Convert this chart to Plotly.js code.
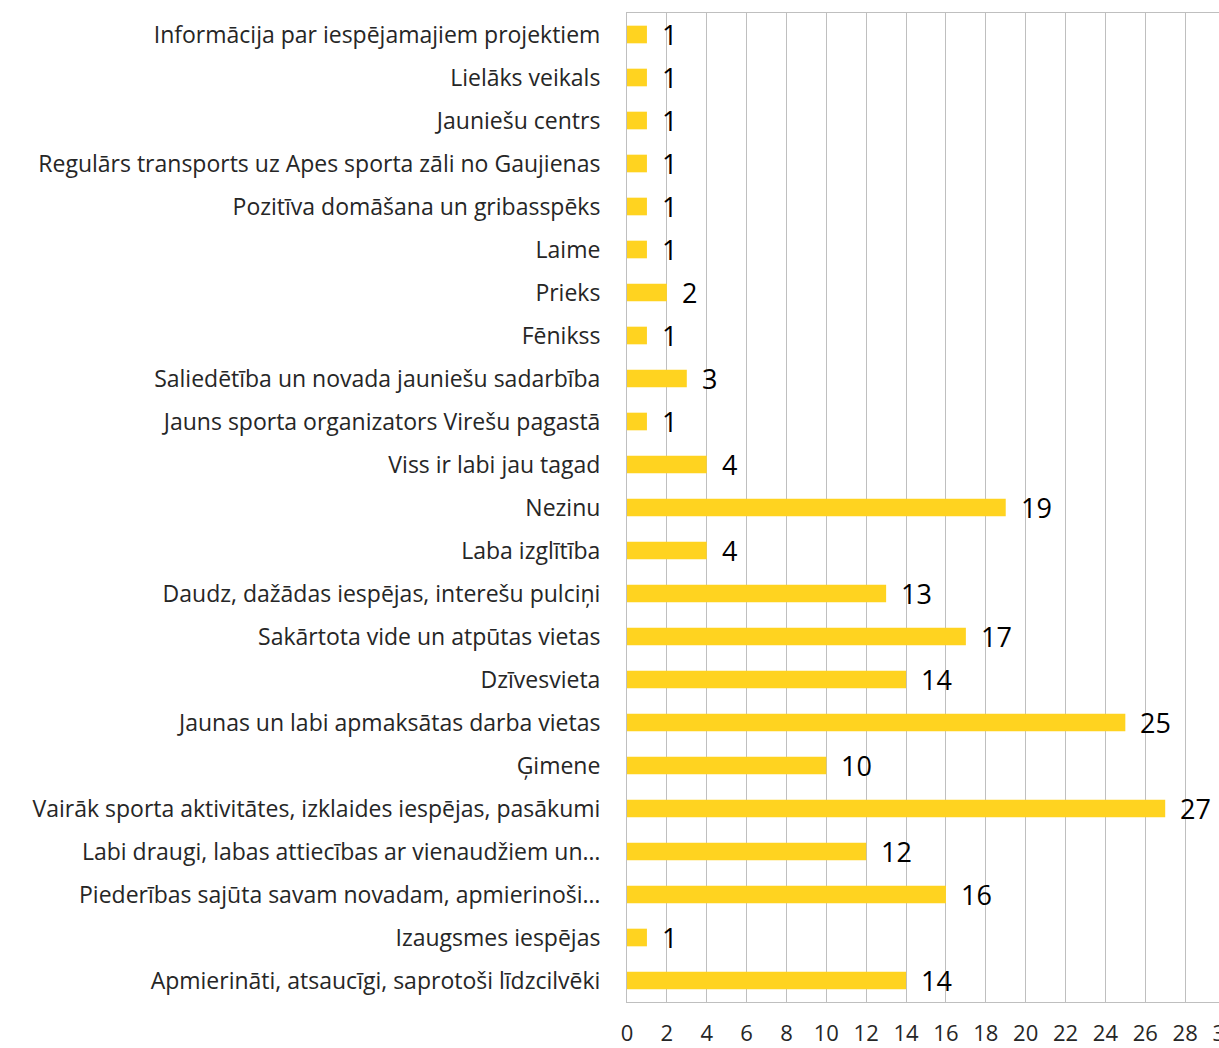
<!DOCTYPE html>
<html>
<head>
<meta charset="utf-8">
<script src="https://cdn.plot.ly/plotly-3.0.1.min.js"></script>
<style>
  html, body { margin: 0; padding: 0; background: #fff; overflow: hidden; }
  #chart { width: 1232px; height: 1048px; }
</style>
</head>
<body>
<div id="chart"></div>
<script>
// categories listed bottom to top, as in the source sheet
const categories = [
    'Apmierināti, atsaucīgi, saprotoši līdzcilvēki',
    'Izaugsmes iespējas',
    'Piederības sajūta savam novadam, apmierinoši…',
    'Labi draugi, labas attiecības ar vienaudžiem un…',
    'Vairāk sporta aktivitātes, izklaides iespējas, pasākumi',
    'Ģimene',
    'Jaunas un labi apmaksātas darba vietas',
    'Dzīvesvieta',
    'Sakārtota vide un atpūtas vietas',
    'Daudz, dažādas iespējas, interešu pulciņi',
    'Laba izglītība',
    'Nezinu',
    'Viss ir labi jau tagad',
    'Jauns sporta organizators Virešu pagastā',
    'Saliedētība un novada jauniešu sadarbība',
    'Fēnikss',
    'Prieks',
    'Laime',
    'Pozitīva domāšana un gribasspēks',
    'Regulārs transports uz Apes sporta zāli no Gaujienas',
    'Jauniešu centrs',
    'Lielāks veikals',
    'Informācija par iespējamajiem projektiem'
];
const counts = [14, 1, 16, 12, 27, 10, 25, 14, 17, 13, 4, 19, 4, 1, 3, 1, 2, 1, 1, 1, 1, 1, 1];
const xTicks = [0, 2, 4, 6, 8, 10, 12, 14, 16, 18, 20, 22, 24, 26, 28, 30];

const fontFamily = '"Open Sans", sans-serif';

const bars = [{
    type: 'bar',
    orientation: 'h',
    x: counts,
    y: categories,
    marker: { color: '#FFD320' },
    hoverinfo: 'x+y'
}];

// value labels sit a bit right of each bar end
const labels = counts.map((v, i) => ({
    x: v, y: categories[i],
    text: String(v),
    showarrow: false,
    xanchor: 'left',
    xshift: 13,
    font: { family: fontFamily, size: 27, color: '#000' }
}));

const layout = {
    width: 1232, height: 1048,
    margin: { l: 627, r: 7, t: 13, b: 46 },
    paper_bgcolor: '#fff', plot_bgcolor: '#fff',
    bargap: 0.59,
    showlegend: false,
    font: { family: fontFamily, size: 23, color: '#262626' },
    xaxis: {
        range: [0, 30],
        tickvals: xTicks,
        showgrid: true, gridcolor: '#bfbfbf', gridwidth: 1,
        zeroline: false,
        showline: true, linecolor: '#bfbfbf', linewidth: 1, mirror: true,
        ticks: '', ticklabelstandoff: 12,
        ticklabeloverflow: 'allow',
        tickfont: { size: 22, color: '#262626' }
    },
    yaxis: {
        type: 'category',
        showgrid: false,
        showline: true, linecolor: '#bfbfbf', linewidth: 1,
        ticks: '', ticklabelstandoff: 21,
        tickfont: { size: 23, color: '#262626' }
    },
    annotations: labels
};

Plotly.newPlot('chart', bars, layout, { staticPlot: true });
</script>
</body>
</html>
